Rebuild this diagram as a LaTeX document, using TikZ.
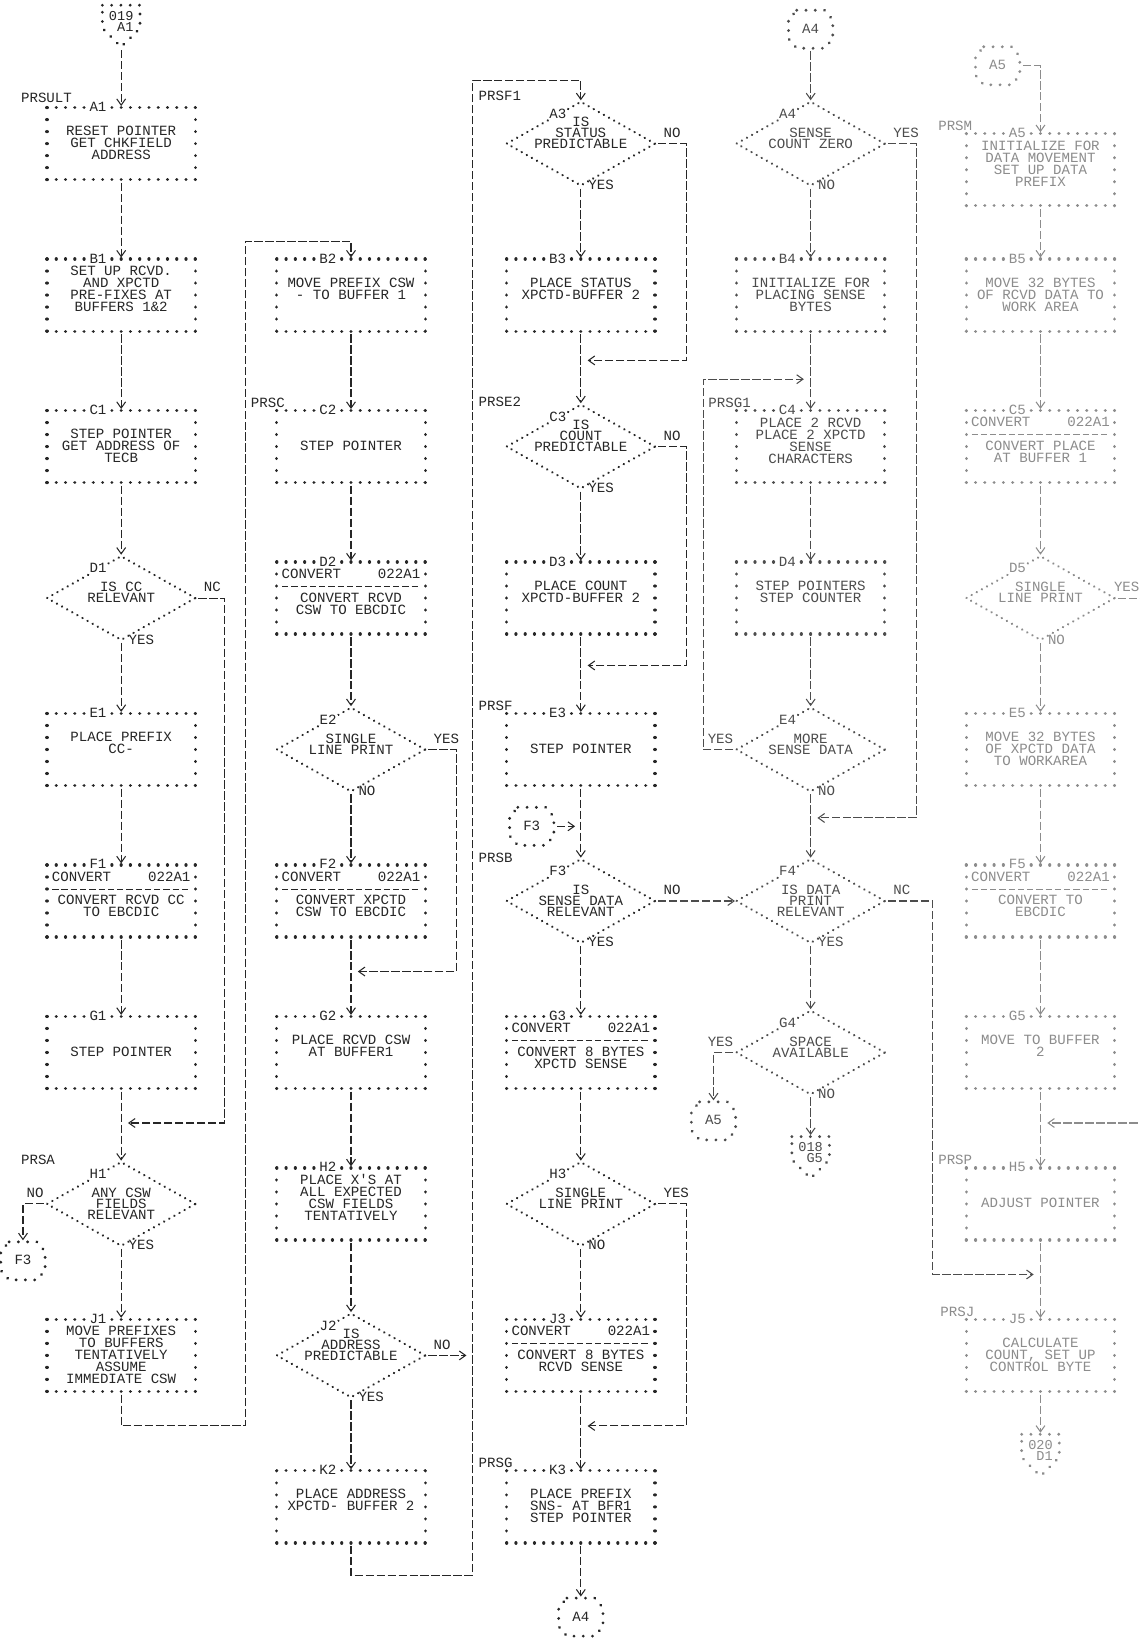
\documentclass[tikz,border=0pt]{standalone}
\usepackage{fontspec}
\setmonofont{Liberation Mono}
\usetikzlibrary{shapes.geometric,arrows.meta}
\colorlet{ink}{black!85}
\newcommand\pf{\ttfamily\fontsize{13.5}{11.5}\selectfont\lineskiplimit=-30pt }
\newcommand\dfont{\ttfamily\fontsize{13.5}{10.5}\selectfont\lineskiplimit=-30pt }
\newcommand\ofont{\ttfamily\fontsize{13}{10.5}\selectfont\lineskiplimit=-30pt }
\newcommand\five[5]{\strut#1\\\strut#2\\\strut#3\\\strut#4\\\strut#5}
\tikzset{
 dotsh/.style={draw=ink, line width=3.1pt, line cap=round, dash pattern=on 0.01pt off 8.86pt},
 dotsv/.style={draw=ink, line width=3.1pt, line cap=round, dash pattern=on 0.01pt off 11.48pt},
 dotsd/.style={draw=ink, line width=2.4pt, line cap=round, dash pattern=on 0.01pt off 5.6pt},
 dotso/.style={draw=ink, line width=3pt, line cap=round, dash pattern=on 0.01pt off 8.86pt},
 pbox/.style={rectangle, minimum width=142pt, minimum height=69pt, inner sep=0pt, outer sep=0pt},
 btxt/.style={font=\pf, text=ink, align=center, inner sep=0pt},
 htxt/.style={font=\pf, text=ink, inner sep=0pt},
 idl/.style={font=\pf, text=ink, fill=white, inner sep=1.5pt, text height=7.7pt, text depth=0pt},
 idl2/.style={font=\pf, text=ink, fill=white, inner sep=1pt, text height=7.7pt, text depth=0pt},
 dia/.style={diamond, minimum width=142pt, minimum height=80pt, inner sep=0pt, outer sep=0pt, dotsd},
 dtxt/.style={font=\dfont, text=ink, align=center, inner sep=0pt},
 xl/.style={font=\pf, text=ink, inner sep=0pt},
 plbl/.style={font=\pf, text=ink, inner sep=0pt, anchor=west, text height=7.7pt, text depth=0pt},
 onp/.style={rectangle, minimum width=42pt, minimum height=36pt, inner sep=0pt, font=\pf, text=ink, text height=7.7pt, text depth=0pt},
 otxt/.style={font=\ofont, text=ink, align=center, inner sep=0pt},
 conn/.style={draw=ink, line width=1pt, dash pattern=on 8pt off 2.5pt, shorten <=3pt, shorten >=1.5pt, -{Straight Barb[length=6pt,width=8.5pt]}},
 sepl/.style={draw=ink, line width=0.9pt, dash pattern=on 6pt off 2.86pt},
}
\newcommand\pbx[4]{%
  \node[pbox] (#1) at (#2,#3+34.5) {};
  \draw[dotsh] (#1.north west) -- (#1.north east);
  \draw[dotsh] (#1.south west) -- (#1.south east);
  \draw[dotsv] (#1.north west) -- (#1.south west);
  \draw[dotsv] (#1.north east) -- (#1.south east);
  \node[idl] (#1i) at ([xshift=-22.2pt]#1.north) {#1};
  \node[btxt] (#1t) at ([yshift=-1.5pt]#1.center) {#4};
}
\newcommand\cbx[5]{%
  \pbx{#1}{#2}{#3}{\five{}{}{#4}{#5}{}}%
  \node[htxt,anchor=base west] (#1h) at ([xshift=4.5pt,yshift=-15.5pt]#1.north west) {CONVERT};
  \node[htxt,anchor=base east] (#1k) at ([xshift=-4.5pt,yshift=-15.5pt]#1.north east) {022A1};
  \draw[sepl] ([xshift=5pt,yshift=-23pt]#1.north west) -- ([xshift=-5pt,yshift=-23pt]#1.north east);
}
\newcommand\dmd[5]{%
  \node[dia] (#1) at (#2,#3) {};
  \node[idl2] (#1i) at ([xshift=-22pt,yshift=28pt]#1.center) {#1};
  \node[dtxt] (#1t) at ([yshift=#5]#1.center) {#4};
}
\newcommand\exR[3][8pt]{\node[xl,anchor=base west] (#2r) at ([xshift=#1,yshift=6pt]#2.east) {#3};}
\newcommand\exL[2]{\node[xl,anchor=base east] (#1l) at ([xshift=-3pt,yshift=6pt]#1.west) {#2};}
\newcommand\exB[2]{\node[xl,anchor=base west] (#1b) at ([xshift=7pt,yshift=-4pt]#1.south) {#2};}
\newcommand\onpg[4]{%
  \node[onp] (#1) at (#2,#3) {#4};
  \draw[dotso] ([xshift=-13.3pt]#1.north) -- ([xshift=13.3pt]#1.north) -- ([yshift=9pt]#1.east) -- ([yshift=-9pt]#1.east) -- ([xshift=13.3pt]#1.south) -- ([xshift=-13.3pt]#1.south) -- ([yshift=-9pt]#1.west) -- ([yshift=9pt]#1.west) -- cycle;
}
\newcommand\offpg[5]{%
  \node[otxt] (#1) at (#2,#3+17) {\strut#4\\\strut\ #5};
  \draw[dotso] (#2-18,#3) -- (#2+18,#3) -- (#2+18,#3+22) -- (#2,#3+40) -- (#2-18,#3+22) -- cycle;
  \coordinate (#1n) at (#2,#3);
  \coordinate (#1b) at (#2,#3+40);
}
\newcommand\prs[3]{\node[plbl] (#1) at (#2,#3) {#1};}
\begin{document}
\begin{tikzpicture}[x=1pt,y=-1pt]
\fill[white] (0,0) rectangle (1091,1568);
\useasboundingbox (0,0) rectangle (1091,1568);

% ---------------- column 1
\offpg{P019}{116}{5}{019}{A1}
\prs{PRSULT}{20}{94}
\pbx{A1}{116}{103}{\five{}{RESET POINTER}{GET CHKFIELD}{ADDRESS}{}}
\pbx{B1}{116}{248}{\five{SET UP RCVD.}{AND XPCTD}{PRE-FIXES AT}{BUFFERS 1\&2}{}}
\pbx{C1}{116}{393}{\five{}{STEP POINTER}{GET ADDRESS OF}{TECB}{}}
\dmd{D1}{116}{572.5}{\strut IS CC\\\strut RELEVANT}{3.5pt}
\exR{D1}{NC}\exB{D1}{YES}
\pbx{E1}{116}{683}{\five{}{PLACE PREFIX}{CC-}{}{}}
\cbx{F1}{116}{828}{CONVERT RCVD CC}{TO EBCDIC}
\pbx{G1}{116}{973}{\five{}{}{STEP POINTER}{}{}}
\prs{PRSA}{20}{1111}
\dmd{H1}{116}{1152.5}{\strut ANY CSW\\\strut FIELDS\\\strut RELEVANT}{-1.75pt}
\exL{H1}{NO}\exB{H1}{YES}
\onpg{cF3a}{22}{1207}{F3}
\pbx{J1}{116}{1263}{\five{MOVE PREFIXES}{TO BUFFERS}{TENTATIVELY}{ASSUME}{IMMEDIATE CSW}}

\draw[conn] (P019b) -- (A1.north);
\draw[conn] (A1.south) -- (B1.north);
\draw[conn] (B1.south) -- (C1.north);
\draw[conn] (C1.south) -- (D1.north);
\draw[conn] (D1.south) -- (E1.north);
\draw[conn] (E1.south) -- (F1.north);
\draw[conn] (F1.south) -- (G1.north);
\draw[conn] (G1.south) -- (H1.north);
\draw[conn] (H1.south) -- (J1.north);
\coordinate (d1a) at (215,572.5); \coordinate (d1b) at (215,1075); \coordinate (d1c) at (121,1075);
\draw[conn] (D1.east) -- (d1a) -- (d1b) -- (d1c);
\coordinate (h1a) at (22,1152.5);
\draw[conn] (H1.west) -- (h1a) -- (cF3a.north);
\coordinate (j1a) at (116,1365); \coordinate (j1b) at (235,1365); \coordinate (j1c) at (235,231); \coordinate (j1d) at (336,231);

% ---------------- column 2
\pbx{B2}{336}{248}{\five{}{MOVE PREFIX CSW}{- TO BUFFER 1}{}{}}
\prs{PRSC}{240}{386}
\pbx{C2}{336}{393}{\five{}{}{STEP POINTER}{}{}}
\cbx{D2}{336}{538}{CONVERT RCVD}{CSW TO EBCDIC}
\dmd{E2}{336}{717.5}{\strut SINGLE\\\strut LINE PRINT}{3.5pt}
\exR{E2}{YES}\exB{E2}{NO}
\cbx{F2}{336}{828}{CONVERT XPCTD}{CSW TO EBCDIC}
\pbx{G2}{336}{973}{\five{}{PLACE RCVD CSW}{AT BUFFER1}{}{}}
\pbx{H2}{336}{1118}{\five{PLACE X'S AT}{ALL EXPECTED}{CSW FIELDS}{TENTATIVELY}{}}
\dmd{J2}{336}{1297.5}{\strut IS\\\strut ADDRESS\\\strut PREDICTABLE}{8.75pt}
\exR{J2}{NO}\exB{J2}{YES}
\pbx{K2}{336}{1408}{\five{}{PLACE ADDRESS}{XPCTD- BUFFER 2}{}{}}

\draw[conn] (J1.south) -- (j1a) -- (j1b) -- (j1c) -- (j1d) -- (B2.north);
\draw[conn] (B2.south) -- (C2.north);
\draw[conn] (C2.south) -- (D2.north);
\draw[conn] (D2.south) -- (E2.north);
\draw[conn] (E2.south) -- (F2.north);
\draw[conn] (F2.south) -- (G2.north);
\draw[conn] (G2.south) -- (H2.north);
\draw[conn] (H2.south) -- (J2.north);
\draw[conn] (J2.south) -- (K2.north);
\coordinate (e2a) at (437,717.5); \coordinate (e2b) at (437,930); \coordinate (e2c) at (341,930);
\draw[conn] (E2.east) -- (e2a) -- (e2b) -- (e2c);
\coordinate (j2a) at (448,1297.5);
\draw[conn] (J2.east) -- (j2a);
\coordinate (k2a) at (336,1508); \coordinate (k2b) at (452,1508); \coordinate (k2c) at (452,77); \coordinate (k2d) at (556,77);

% ---------------- column 3
\prs{PRSF1}{458}{92}
\dmd{A3}{556}{137.5}{\strut IS\\\strut STATUS\\\strut PREDICTABLE}{8.75pt}
\exR{A3}{NO}\exB{A3}{YES}
\pbx{B3}{556}{248}{\five{}{PLACE STATUS}{XPCTD-BUFFER 2}{}{}}
\prs{PRSE2}{458}{385}
\dmd{C3}{556}{427.5}{\strut IS\\\strut COUNT\\\strut PREDICTABLE}{8.75pt}
\exR{C3}{NO}\exB{C3}{YES}
\pbx{D3}{556}{538}{\five{}{PLACE COUNT}{XPCTD-BUFFER 2}{}{}}
\prs{PRSF}{458}{676}
\pbx{E3}{556}{683}{\five{}{}{STEP POINTER}{}{}}
\onpg{cF3b}{509}{791}{F3}
\prs{PRSB}{458}{822}
\dmd{F3}{556}{862.5}{\strut IS\\\strut SENSE DATA\\\strut RELEVANT}{-1.75pt}
\exR{F3}{NO}\exB{F3}{YES}
\cbx{G3}{556}{973}{CONVERT 8 BYTES}{XPCTD SENSE}
\dmd{H3}{556}{1152.5}{\strut SINGLE\\\strut LINE PRINT}{3.5pt}
\exR{H3}{YES}\exB{H3}{NO}
\cbx{J3}{556}{1263}{CONVERT 8 BYTES}{RCVD SENSE}
\prs{PRSG}{458}{1401}
\pbx{K3}{556}{1408}{\five{}{PLACE PREFIX}{SNS- AT BFR1}{STEP POINTER}{}}
\onpg{cA4b}{556}{1548}{A4}

\draw[conn] (K2.south) -- (k2a) -- (k2b) -- (k2c) -- (k2d) -- (A3.north);
\draw[conn] (A3.south) -- (B3.north);
\draw[conn] (B3.south) -- (C3.north);
\draw[conn] (C3.south) -- (D3.north);
\draw[conn] (D3.south) -- (E3.north);
\draw[conn] (E3.south) -- (F3.north);
\draw[conn] (F3.south) -- (G3.north);
\draw[conn] (G3.south) -- (H3.north);
\draw[conn] (H3.south) -- (J3.north);
\draw[conn] (J3.south) -- (K3.north);
\draw[conn] (K3.south) -- (cA4b.north);
\coordinate (a3a) at (657,137.5); \coordinate (a3b) at (657,345); \coordinate (a3c) at (561,345);
\draw[conn] (A3.east) -- (a3a) -- (a3b) -- (a3c);
\coordinate (c3a) at (657,427.5); \coordinate (c3b) at (657,637); \coordinate (c3c) at (561,637);
\draw[conn] (C3.east) -- (c3a) -- (c3b) -- (c3c);
\coordinate (h3a) at (657,1152.5); \coordinate (h3b) at (657,1365); \coordinate (h3c) at (561,1365);
\draw[conn] (H3.east) -- (h3a) -- (h3b) -- (h3c);
\coordinate (f3m) at (552,791);
\draw[conn] (cF3b.east) -- (f3m);

% ---------------- column 4
\begin{scope}
\colorlet{ink}{black!70}
\onpg{cA4a}{776}{28}{A4}
\dmd{A4}{776}{137.5}{\strut SENSE\\\strut COUNT ZERO}{3.5pt}
\exR{A4}{YES}\exB{A4}{NO}
\pbx{B4}{776}{248}{\five{}{INITIALIZE FOR}{PLACING SENSE}{BYTES}{}}
\prs{PRSG1}{678}{386}
\pbx{C4}{776}{393}{\five{PLACE 2 RCVD}{PLACE 2 XPCTD}{SENSE}{CHARACTERS}{}}
\pbx{D4}{776}{538}{\five{}{STEP POINTERS}{STEP COUNTER}{}{}}
\dmd{E4}{776}{717.5}{\strut MORE\\\strut SENSE DATA}{3.5pt}
\exL{E4}{YES}\exB{E4}{NO}
\dmd{F4}{776}{862.5}{\strut IS DATA\\\strut PRINT\\\strut RELEVANT}{-1.75pt}
\exR{F4}{NC}\exB{F4}{YES}
\dmd{G4}{776}{1007.5}{\strut SPACE\\\strut AVAILABLE}{3.5pt}
\exL{G4}{YES}\exB{G4}{NO}
\onpg{cA5a}{683}{1073}{A5}
\offpg{P018}{776}{1088}{018}{G5}

\draw[conn] (F3.east) -- (F4.west);
\draw[conn] (cA4a.south) -- (A4.north);
\draw[conn] (A4.south) -- (B4.north);
\draw[conn] (B4.south) -- (C4.north);
\draw[conn] (C4.south) -- (D4.north);
\draw[conn] (D4.south) -- (E4.north);
\draw[conn] (E4.south) -- (F4.north);
\draw[conn] (F4.south) -- (G4.north);
\draw[conn] (G4.south) -- (P018n);
\coordinate (a4a) at (877,137.5); \coordinate (a4b) at (877,783); \coordinate (a4c) at (781,783);
\draw[conn] (A4.east) -- (a4a) -- (a4b) -- (a4c);
\coordinate (e4a) at (673,717.5); \coordinate (e4b) at (673,363); \coordinate (e4c) at (771,363);
\draw[conn] (E4.west) -- (e4a) -- (e4b) -- (e4c);
\coordinate (f4a) at (893,862.5); \coordinate (f4b) at (893,1220); \coordinate (f4c) at (991,1220);
\draw[conn] (F4.east) -- (f4a) -- (f4b) -- (f4c);
\coordinate (g4a) at (683,1007.5);
\draw[conn] (G4.west) -- (g4a) -- (cA5a.north);
\end{scope}

% ---------------- column 5
\begin{scope}
\colorlet{ink}{black!45}
\onpg{cA5b}{955}{63}{A5}
\prs{PRSM}{898}{121}
\pbx{A5}{996}{128}{\five{INITIALIZE FOR}{DATA MOVEMENT}{SET UP DATA}{PREFIX}{}}
\pbx{B5}{996}{248}{\five{}{MOVE 32 BYTES}{OF RCVD DATA TO}{WORK AREA}{}}
\cbx{C5}{996}{393}{CONVERT PLACE}{AT BUFFER 1}
\dmd{D5}{996}{572.5}{\strut SINGLE\\\strut LINE PRINT}{3.5pt}
\exR[-0.8pt]{D5}{YES}\exB{D5}{NO}
\pbx{E5}{996}{683}{\five{}{MOVE 32 BYTES}{OF XPCTD DATA}{TO WORKAREA}{}}
\cbx{F5}{996}{828}{CONVERT TO}{EBCDIC}
\pbx{G5}{996}{973}{\five{}{MOVE TO BUFFER}{2}{}{}}
\prs{PRSP}{898}{1111}
\pbx{H5}{996}{1118}{\five{}{}{ADJUST POINTER}{}{}}
\prs{PRSJ}{900}{1256}
\pbx{J5}{996}{1263}{\five{}{CALCULATE}{COUNT, SET UP}{CONTROL BYTE}{}}
\offpg{P020}{996}{1373}{020}{D1}

\coordinate (a5a) at (996,63);
\draw[conn] (cA5b.east) -- (a5a) -- (A5.north);
\draw[conn] (A5.south) -- (B5.north);
\draw[conn] (B5.south) -- (C5.north);
\draw[conn] (C5.south) -- (D5.north);
\draw[conn] (D5.south) -- (E5.north);
\draw[conn] (E5.south) -- (F5.north);
\draw[conn] (F5.south) -- (G5.north);
\draw[conn] (G5.south) -- (H5.north);
\draw[conn] (H5.south) -- (J5.north);
\draw[conn] (J5.south) -- (P020n);
\coordinate (d5a) at (1096,572.5); \coordinate (d5b) at (1096,1075); \coordinate (d5c) at (1001,1075);
\draw[conn] (D5.east) -- (d5a) -- (d5b) -- (d5c);
\end{scope}
\end{tikzpicture}
\end{document}
